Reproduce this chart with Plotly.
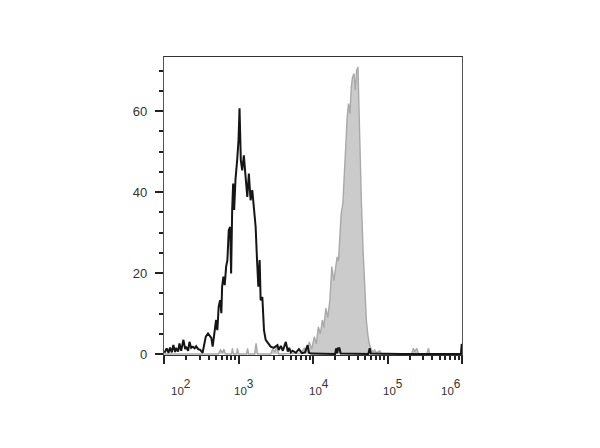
import numpy as np
import plotly.graph_objects as go

# Control (black line) histogram: x as log10 fluorescence, y as counts
black_log_x = [2.007, 2.036, 2.061, 2.081, 2.104, 2.126, 2.149, 2.162, 2.189, 2.207, 2.230, 2.261,
               2.284, 2.297, 2.324, 2.342, 2.365, 2.388, 2.412, 2.432, 2.459, 2.486, 2.518, 2.541,
               2.561, 2.591, 2.615, 2.635, 2.653, 2.680, 2.699, 2.716, 2.734, 2.753, 2.770, 2.780,
               2.797, 2.815, 2.834, 2.851, 2.869, 2.888, 2.901, 2.915, 2.928, 2.942, 2.959, 2.982,
               3.000, 3.014, 3.031, 3.050, 3.072, 3.095, 3.118, 3.139, 3.162, 3.185, 3.203, 3.230,
               3.247, 3.266, 3.284, 3.297, 3.320, 3.342, 3.365, 3.401, 3.432, 3.473, 3.523, 3.541,
               3.568, 3.595, 3.635, 3.662, 3.680, 3.703, 3.726, 3.770, 3.811, 3.851, 3.892, 3.928,
               3.946, 3.973, 4.108, 4.297, 4.311, 4.324, 4.338, 4.355, 4.372, 4.743, 4.761, 4.777,
               5.189, 5.986, 5.995, 6.000]
black_counts = [0.3, 1.4, 0.3, 1.6, 0.4, 2.2, 0.5, 1.5, 0.6, 2.6, 0.8, 3.5,
                1.2, 1.8, 0.8, 3.0, 1.5, 1.8, 1.4, 1.9, 1.2, 1.0, 0.3, 3.0,
                4.3, 5.1, 4.6, 4.0, 1.8, 6.7, 8.4, 5.9, 11.7, 13.3, 10.1, 16.6,
                19.1, 17.0, 21.6, 23.2, 30.6, 31.4, 19.9, 35.6, 42.1, 35.6, 43.0, 47.9,
                52.8, 60.7, 47.9, 45.4, 49.1, 43.8, 38.8, 44.6, 38.0, 40.5, 36.4, 31.4,
                24.0, 16.6, 23.2, 13.3, 14.1, 5.9, 3.5, 2.6, 1.8, 1.5, 2.2, 1.0,
                2.0, 0.8, 3.0, 0.6, 1.5, 0.4, 0.8, 0.3, 1.2, 0.2, 0.4, 2.2,
                0.3, 0.1, 0.0, 0.0, 1.4, 0.2, 1.4, 1.4, 0.1, 0.0, 1.4, 0.1,
                0.0, 0.0, 2.2, 2.2]

# Stained sample (gray filled) histogram
gray_log_x = [2.000, 2.730, 2.757, 2.784, 2.804, 2.824, 2.905, 2.919, 2.932, 2.973, 2.986, 3.000,
              3.108, 3.122, 3.135, 3.216, 3.236, 3.257, 3.432, 3.459, 3.486, 3.514, 3.541, 3.838,
              3.882, 3.919, 3.950, 3.982, 4.018, 4.045, 4.072, 4.099, 4.126, 4.145, 4.172, 4.199,
              4.226, 4.253, 4.280, 4.307, 4.324, 4.342, 4.361, 4.378, 4.401, 4.415, 4.432, 4.446,
              4.459, 4.477, 4.496, 4.514, 4.531, 4.550, 4.568, 4.585, 4.604, 4.618, 4.631, 4.649,
              4.672, 4.693, 4.716, 4.739, 4.761, 4.784, 4.807, 4.828, 4.851, 4.896, 4.919, 5.324,
              5.347, 5.365, 5.392, 5.419, 5.527, 5.550, 5.568, 5.986, 6.000]
gray_counts = [0.0, 0.0, 1.0, 0.3, 1.2, 0.0, 0.0, 1.4, 0.0, 0.0, 1.4, 0.0,
               0.0, 1.4, 0.0, 0.0, 2.6, 0.0, 0.0, 1.2, 0.5, 1.8, 0.0, 0.2,
               1.4, 0.5, 3.0, 1.2, 4.3, 2.5, 6.7, 5.0, 8.4, 6.5, 11.3, 9.0,
               13.3, 21.6, 18.1, 22.4, 24.0, 23.0, 29.8, 34.7, 37.2, 43.0, 46.2, 56.1,
               58.6, 61.9, 59.4, 66.0, 68.5, 69.3, 65.2, 70.1, 70.9, 60.2, 49.5, 38.0,
               25.7, 16.6, 8.4, 4.3, 2.2, 1.0, 0.5, 1.0, 0.3, 0.8, 0.0, 0.0,
               1.4, 0.5, 1.4, 0.0, 0.0, 1.4, 0.0, 0.0, 2.6]

x_tick_exponents = [2, 3, 4, 5, 6]
x_tick_labels = ["<span style='font-size:11.5px'>10</span><sup>2</sup>",
                 "<span style='font-size:11.5px'>10</span><sup>3</sup>",
                 "<span style='font-size:11.5px'>10</span><sup>4</sup>",
                 "<span style='font-size:11.5px'>10</span><sup>5</sup>",
                 "<span style='font-size:11.5px'>10</span><sup>6</sup>"]
x_label_shift = [17, 5, 6, 5, -11]
y_tick_vals = [0, 20, 40, 60]

FONT = "Liberation Sans, Arial, sans-serif"

fig = go.Figure()
fig.add_trace(go.Scatter(
    x=10 ** np.array(gray_log_x), y=gray_counts, mode="lines",
    line=dict(color="#a9a9a9", width=1.4), fill="tozeroy", fillcolor="#cbcbcb",
    showlegend=False, hoverinfo="skip"))
fig.add_trace(go.Scatter(
    x=10 ** np.array(black_log_x), y=black_counts, mode="lines",
    line=dict(color="#151515", width=2.0),
    showlegend=False, hoverinfo="skip"))

for e, lab, sh in zip(x_tick_exponents, x_tick_labels, x_label_shift):
    fig.add_annotation(x=e, xref="x", y=0, yref="paper", yanchor="top", xanchor="center",
                       text=lab, showarrow=False, xshift=sh, yshift=-20,
                       font=dict(family=FONT, size=17, color="#333"))

fig.update_xaxes(type="log", range=[2, 6], tickvals=[10 ** e for e in x_tick_exponents],
                 showticklabels=False, ticks="outside", ticklen=8, tickwidth=1.5, tickcolor="#222",
                 minor=dict(ticks="outside", ticklen=4, tickcolor="#222", dtick="D1", showgrid=False),
                 showline=True, linecolor="#333", linewidth=1.2, mirror=True,
                 showgrid=False, zeroline=False)
fig.update_yaxes(range=[-0.25, 73.4], tickvals=y_tick_vals, ticks="outside", ticklen=8,
                 tickwidth=1.5, tickcolor="#222",
                 minor=dict(ticks="outside", ticklen=4, tickcolor="#222", dtick=5, tick0=0, showgrid=False),
                 showline=True, linecolor="#555", linewidth=1.2, mirror=True,
                 showgrid=False, zeroline=False, ticklabelstandoff=5,
                 tickfont=dict(family=FONT, size=13, color="#333"))

fig.update_layout(width=600, height=448, margin=dict(l=156, r=146, t=49, b=101),
                  paper_bgcolor="white", plot_bgcolor="white")
fig.write_html("out.html")
